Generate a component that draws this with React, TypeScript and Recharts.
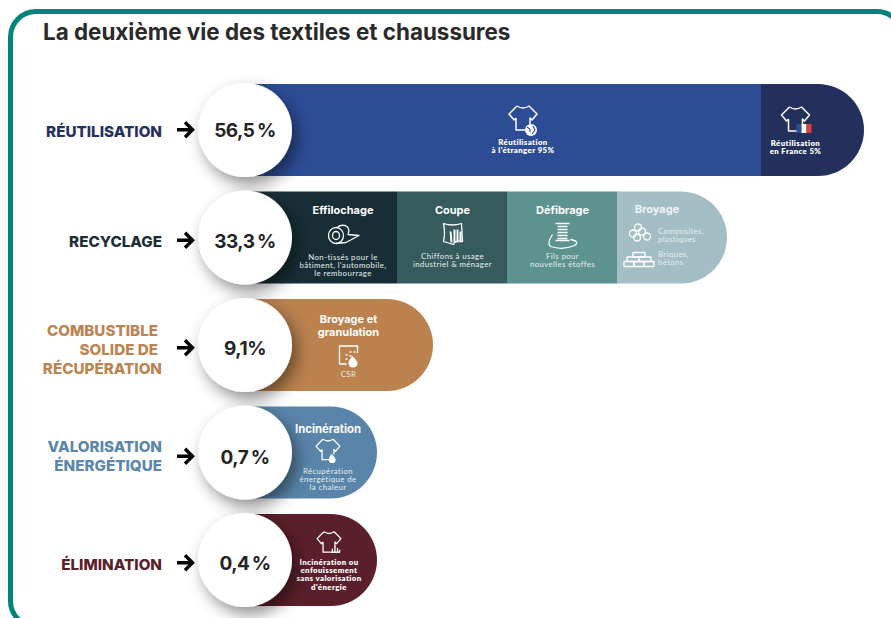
import React from 'react';
import { BarChart, Bar, XAxis, YAxis, LabelList, Rectangle } from 'recharts';

const categories = ['RÉUTILISATION', 'RECYCLAGE', 'COMBUSTIBLE\nSOLIDE DE\nRÉCUPÉRATION', 'VALORISATION\nÉNERGÉTIQUE', 'ÉLIMINATION'];
const shares = ['56,5\u2009%', '33,3\u2009%', '9,1%', '0,7\u2009%', '0,4\u2009%'];

// The bars are a pictogram: their lengths do not follow the shares, so they are read off the picture
const firstSegment = [516, 152, 188, 132, 132];
const secondSegment = [103, 110, 0, 0, 0];
const thirdSegment = [0, 110, 0, 0, 0];
const fourthSegment = [0, 110, 0, 0, 0];

const segmentTitles = [
  [[], [], [], []],
  [['Effilochage'], ['Coupe'], ['Défibrage'], ['Broyage']],
  [['Broyage et', 'granulation'], [], [], []],
  [['Incinération'], [], [], []],
  [[], [], [], []],
];
const segmentNotes = [
  [["Réutilisation", "à l'étranger 95%"], ['Réutilisation', 'en France 5%'], [], []],
  [["Non-tissés pour le", "bâtiment, l'automobile,", 'le rembourrage'], ['Chiffons à usage', 'industriel & ménager'], ['Fils pour', 'nouvelles étoffes'], []],
  [['CSR'], [], [], []],
  [['Récupération', 'énergétique de', 'la chaleur'], [], [], []],
  [['Incinération ou', 'enfouissement', 'sans valorisation', "d'énergie"], [], [], []],
];

const chartData = categories.map((category, i) => ({
  category,
  share: shares[i],
  first: firstSegment[i],
  second: secondSegment[i],
  third: thirdSegment[i],
  fourth: fourthSegment[i],
}));

const TEAL = '#00847c';
const segmentColors = [
  ['#2d4c96', '#232f5c'],
  ['#172e36', '#355b5c', '#5c938e', '#a3bec4'],
  ['#bb824f'],
  ['#5985ab'],
  ['#5b1f2b'],
];
const categoryColors = ['#25305e', '#1c2f38', '#bd8350', '#5b87ad', '#5b2029'];
const BAR_END_RADIUS = 46;

// small vertical shifts of the row labels against the bar centre
const labelNudge = [0, 3, 3, 4, 3];

type Layout = { cx: number; titleY?: number; iconY: number; noteY: number; bold?: boolean; icon: string; iconScale?: number };
// caption layout per "row-segment": cx from segment start, y from bar top
const captionLayout: Record<string, Layout> = {
  '0-0': { cx: 278, iconY: 34, noteY: 61, bold: true, icon: 'globe' },
  '0-1': { cx: 34.5, iconY: 35, noteY: 62, bold: true, icon: 'france' },
  '1-0': { cx: 98, titleY: 22, iconY: 43, noteY: 68, icon: 'roll' },
  '1-1': { cx: 55.5, titleY: 22, iconY: 42, noteY: 67, icon: 'cloth' },
  '1-2': { cx: 55.5, titleY: 22, iconY: 44, noteY: 67, icon: 'spool' },
  '2-0': { cx: 103.5, titleY: 24, iconY: 56, noteY: 78, icon: 'csr' },
  '3-0': { cx: 83, titleY: 26, iconY: 43, noteY: 67, icon: 'flame', iconScale: 0.85 },
  '4-0': { cx: 84, iconY: 28, noteY: 51, bold: true, icon: 'bars', iconScale: 0.85 },
};

const HEADING = 'Inter, "Open Sans", sans-serif';
const BODY = 'Lato, "Noto Sans", sans-serif';

function Shirt({ x, y, scale = 1, children }: { x: number; y: number; scale?: number; children?: React.ReactNode }) {
  return (
    <g transform={`translate(${x},${y}) scale(${scale})`} fill="none" stroke="#fff" strokeWidth={1.5} strokeLinejoin="round">
      <path d="M-6 -12 Q0 -8 6 -12 L14 -4 L9 2 L7 0 L7 6 M-7 0 L-9 2 L-14 -4 L-6 -12 M-7 0 L-7 12 L2 12" />
      {children}
    </g>
  );
}

function Icon({ name, x, y, scale }: { name: string; x: number; y: number; scale?: number }) {
  if (name === 'globe') {
    return (
      <Shirt x={x} y={y}>
        <circle cx={8} cy={12} r={6} fill="#fff" stroke="none" />
        <path d="M4 9 Q8 11 7 14 M10 8 L12 12 L9 16" stroke="#2d4c96" strokeWidth={1.2} />
      </Shirt>
    );
  }
  if (name === 'france') {
    return (
      <Shirt x={x} y={y}>
        <rect x={1} y={5} width={5} height={9} fill="#2d4c96" stroke="none" />
        <rect x={6} y={5} width={5} height={9} fill="#fff" stroke="none" />
        <rect x={11} y={5} width={5} height={9} fill="#d8413c" stroke="none" />
      </Shirt>
    );
  }
  if (name === 'flame') {
    return (
      <Shirt x={x} y={y} scale={scale}>
        <path d="M4 5 Q9 10 9 12 A4 4 0 0 1 1 12 Q1 9 4 5 Z" fill="#fff" stroke="none" />
      </Shirt>
    );
  }
  if (name === 'bars') {
    return (
      <Shirt x={x} y={y} scale={scale}>
        <path d="M2 12 H13 M4 12 V8 M7 12 V5 M10 12 V7 M12.5 12 V9" strokeWidth={1.6} />
      </Shirt>
    );
  }
  const common = { fill: 'none', stroke: '#fff', strokeWidth: 1.3, strokeLinejoin: 'round' as const };
  if (name === 'roll') {
    return (
      <g transform={`translate(${x},${y})`} {...common}>
        <ellipse cx={-7} cy={1} rx={7.5} ry={8} />
        <ellipse cx={-7} cy={1} rx={3.5} ry={4} />
        <path d="M-6 -7 Q-1 -11 4 -8 Q7 -5 5 0 L16 1 L3 8 L-7 9" />
      </g>
    );
  }
  if (name === 'cloth') {
    return (
      <g transform={`translate(${x},${y})`} {...common}>
        <path d="M-9 -10 Q0 -7 9 -10 L10 8 Q3 6 1 11 L-9 8 Q-7 0 -9 -10 Z" />
        <path d="M-1 9 L-2 -2 M2 9 L2 -4 M5 9 L5 -4 M8 9 L8 -2" fill="#fff" strokeWidth={2} />
      </g>
    );
  }
  if (name === 'spool') {
    return (
      <g transform={`translate(${x},${y})`} {...common}>
        <path d="M-7 -12 H7 M-7 5 H7 M-5 -9 H5 M-5 -6 H5 M-5 -3 H5 M-5 0 H5 M-5 3 H5" strokeWidth={1.5} />
        <path d="M-10 -1 Q-16 8 -12 11 Q0 15 12 10 Q18 6 8 4" />
      </g>
    );
  }
  if (name === 'csr') {
    return (
      <g transform={`translate(${x},${y})`} {...common}>
        <path d="M-9 9 V-9 H9 V-2 M-9 9 H-2" />
        <path d="M-3 4 h2 M1 1 h2 M5 -3 h2 M1 -3 h2 M-3 0 h2" strokeWidth={1.6} strokeDasharray="2 1" />
        <path d="M4 1 Q9 6 9 8 A4.5 4.5 0 0 1 0 8 Q0 5 4 1 Z" fill="#fff" stroke="none" />
      </g>
    );
  }
  if (name === 'pipes') {
    return (
      <g transform={`translate(${x},${y})`} {...common}>
        <circle cx={-7} cy={1} r={3.5} /><circle cx={-2} cy={-5} r={3.5} /><circle cx={2} cy={-1} r={3.5} />
        <circle cx={-3} cy={5} r={3.5} /><circle cx={7} cy={4} r={3.5} />
      </g>
    );
  }
  // bricks
  return (
    <g transform={`translate(${x},${y})`} {...common}>
      <rect x={-6} y={-8} width={12} height={4.5} />
      <rect x={-12} y={-3.5} width={12} height={4.5} /><rect x={0} y={-3.5} width={12} height={4.5} />
      <rect x={-15} y={1} width={10} height={5} /><rect x={-5} y={1} width={10} height={5} /><rect x={5} y={1} width={10} height={5} />
    </g>
  );
}

function Caption({ row, seg, x, y }: { row: number; seg: number; x: number; y: number }) {
  const layout = captionLayout[`${row}-${seg}`];
  if (row === 1 && seg === 3) {
    // Broyage holds two icon + note pairs
    return (
      <g>
        <text x={x + 40} y={y + 21} textAnchor="middle" fill="#eef4f5" fontFamily={HEADING} fontWeight={700} fontSize={11}>Broyage</text>
        <Icon name="pipes" x={x + 23} y={y + 41} />
        <Icon name="bricks" x={x + 22} y={y + 69} />
        <g fill="#e6eff0" fontFamily={BODY} fontSize={7.8} letterSpacing={0.35}>
          <text x={x + 41} y={y + 42}>Composites,</text>
          <text x={x + 41} y={y + 50}>plastiques</text>
          <text x={x + 41} y={y + 65}>Briques,</text>
          <text x={x + 41} y={y + 73}>bétons</text>
        </g>
      </g>
    );
  }
  if (!layout) return null;
  const cx = x + layout.cx;
  const titles = segmentTitles[row][seg];
  const notes = segmentNotes[row][seg];
  return (
    <g textAnchor="middle">
      {titles.map((t, i) => (
        <text key={t} x={cx} y={y + (layout.titleY ?? 0) + i * 13} fill="#fff" fontFamily={HEADING} fontWeight={700} fontSize={row === 3 ? 11.3 : 11}>{t}</text>
      ))}
      <Icon name={layout.icon} x={cx} y={y + layout.iconY} scale={layout.iconScale} />
      {notes.map((t, i) => (
        <text
          key={t}
          x={cx}
          y={y + layout.noteY + i * 8.2}
          fill={layout.bold ? '#fff' : '#e6eeee'}
          fontFamily={BODY}
          fontWeight={layout.bold ? 800 : 400}
          fontSize={7.8}
          letterSpacing={0.4}
        >
          {t}
        </text>
      ))}
    </g>
  );
}

// one segment of a bar; the last one of its row gets the round end
function segmentShape(seg: number, next: number[] | null) {
  return (props: any) => {
    const { x, y, width, height, index } = props;
    if (!width) return <g />;
    const isLast = !next || !next[index];
    return (
      <g>
        <Rectangle
          x={x}
          y={y}
          width={width}
          height={height}
          fill={segmentColors[index][seg]}
          radius={isLast ? [0, BAR_END_RADIUS, BAR_END_RADIUS, 0] : 0}
        />
        <Caption row={index} seg={seg} x={x} y={y} />
      </g>
    );
  };
}

function CategoryTick(props: any) {
  const { x, y, payload, index } = props;
  const lines: string[] = payload.value.split('\n');
  const midY = y + labelNudge[index];
  const arrowStart = x + 176 - 245;
  const baseline = midY + (index === 3 ? 5.5 : 7);
  return (
    <g>
      <text textAnchor="end" fontFamily={HEADING} fontWeight={800} fontSize={15.2} fill={categoryColors[index]}>
        {lines.map((line, i) => (
          <tspan
            key={line}
            // the first two lines of the CSR label stop a little short in the original
            x={x - 83 - (index === 2 && i < 2 ? 4 : 0)}
            y={baseline + (i - (lines.length - 1) / 2) * 19}
          >
            {line}
          </tspan>
        ))}
      </text>
      <path
        d={`M${arrowStart + 1} ${midY} H${arrowStart + 16} M${arrowStart + 9} ${midY - 7.5} L${arrowStart + 16.5} ${midY} L${arrowStart + 9} ${midY + 7.5}`}
        fill="none"
        stroke="#000"
        strokeWidth={3.4}
      />
    </g>
  );
}

function ShareBadge(props: any) {
  const { x, y, height, index } = props;
  const cy = y + height / 2;
  return (
    <g>
      <circle cx={x} cy={cy} r={47} fill="#fff" filter="url(#badgeShadow)" />
      <text
        x={x}
        y={cy + 7 + labelNudge[index]}
        textAnchor="middle"
        fontFamily={HEADING}
        fontWeight={700}
        fontSize={19}
        letterSpacing={-0.5}
        fill="#242424"
      >
        {shares[index]}
      </text>
    </g>
  );
}

export default function App() {
  return (
    <div style={{ position: 'absolute', left: 0, top: 0, width: 891, height: 618, overflow: 'hidden', background: '#fff' }}>
      <div
        style={{
          position: 'absolute',
          left: 7.5,
          top: 8.5,
          width: 897,
          height: 620,
          boxSizing: 'border-box',
          border: `5px solid ${TEAL}`,
          borderRadius: 28,
        }}
      />
      <div
        style={{
          position: 'absolute',
          left: 43,
          top: 17,
          fontFamily: HEADING,
          fontWeight: 700,
          fontSize: 22.4,
          lineHeight: '30px',
          color: '#2a2a2a',
          whiteSpace: 'nowrap',
        }}
      >
        La deuxième vie des textiles et chaussures
      </div>
      <div style={{ position: 'absolute', left: 0, top: 0 }}>
        <BarChart
          width={891}
          height={618}
          data={chartData}
          layout="vertical"
          barSize={92}
          margin={{ top: 76, right: 0, bottom: 4.5, left: 0 }}
        >
          <defs>
            <filter id="badgeShadow" x="-40%" y="-40%" width="190%" height="190%">
              <feDropShadow dx={5} dy={7} stdDeviation={8} floodColor="#000" floodOpacity={0.45} />
            </filter>
          </defs>
          <XAxis type="number" domain={[0, 646]} hide />
          <YAxis
            type="category"
            dataKey="category"
            width={245}
            axisLine={false}
            tickLine={false}
            interval={0}
            tickMargin={0}
            tickSize={0}
            tick={CategoryTick}
          />
          <Bar dataKey="first" stackId="a" isAnimationActive={false} shape={segmentShape(0, secondSegment)}>
            <LabelList dataKey="share" content={ShareBadge} />
          </Bar>
          <Bar dataKey="second" stackId="a" isAnimationActive={false} shape={segmentShape(1, thirdSegment)} />
          <Bar dataKey="third" stackId="a" isAnimationActive={false} shape={segmentShape(2, fourthSegment)} />
          <Bar dataKey="fourth" stackId="a" isAnimationActive={false} shape={segmentShape(3, null)} />
        </BarChart>
      </div>
    </div>
  );
}
